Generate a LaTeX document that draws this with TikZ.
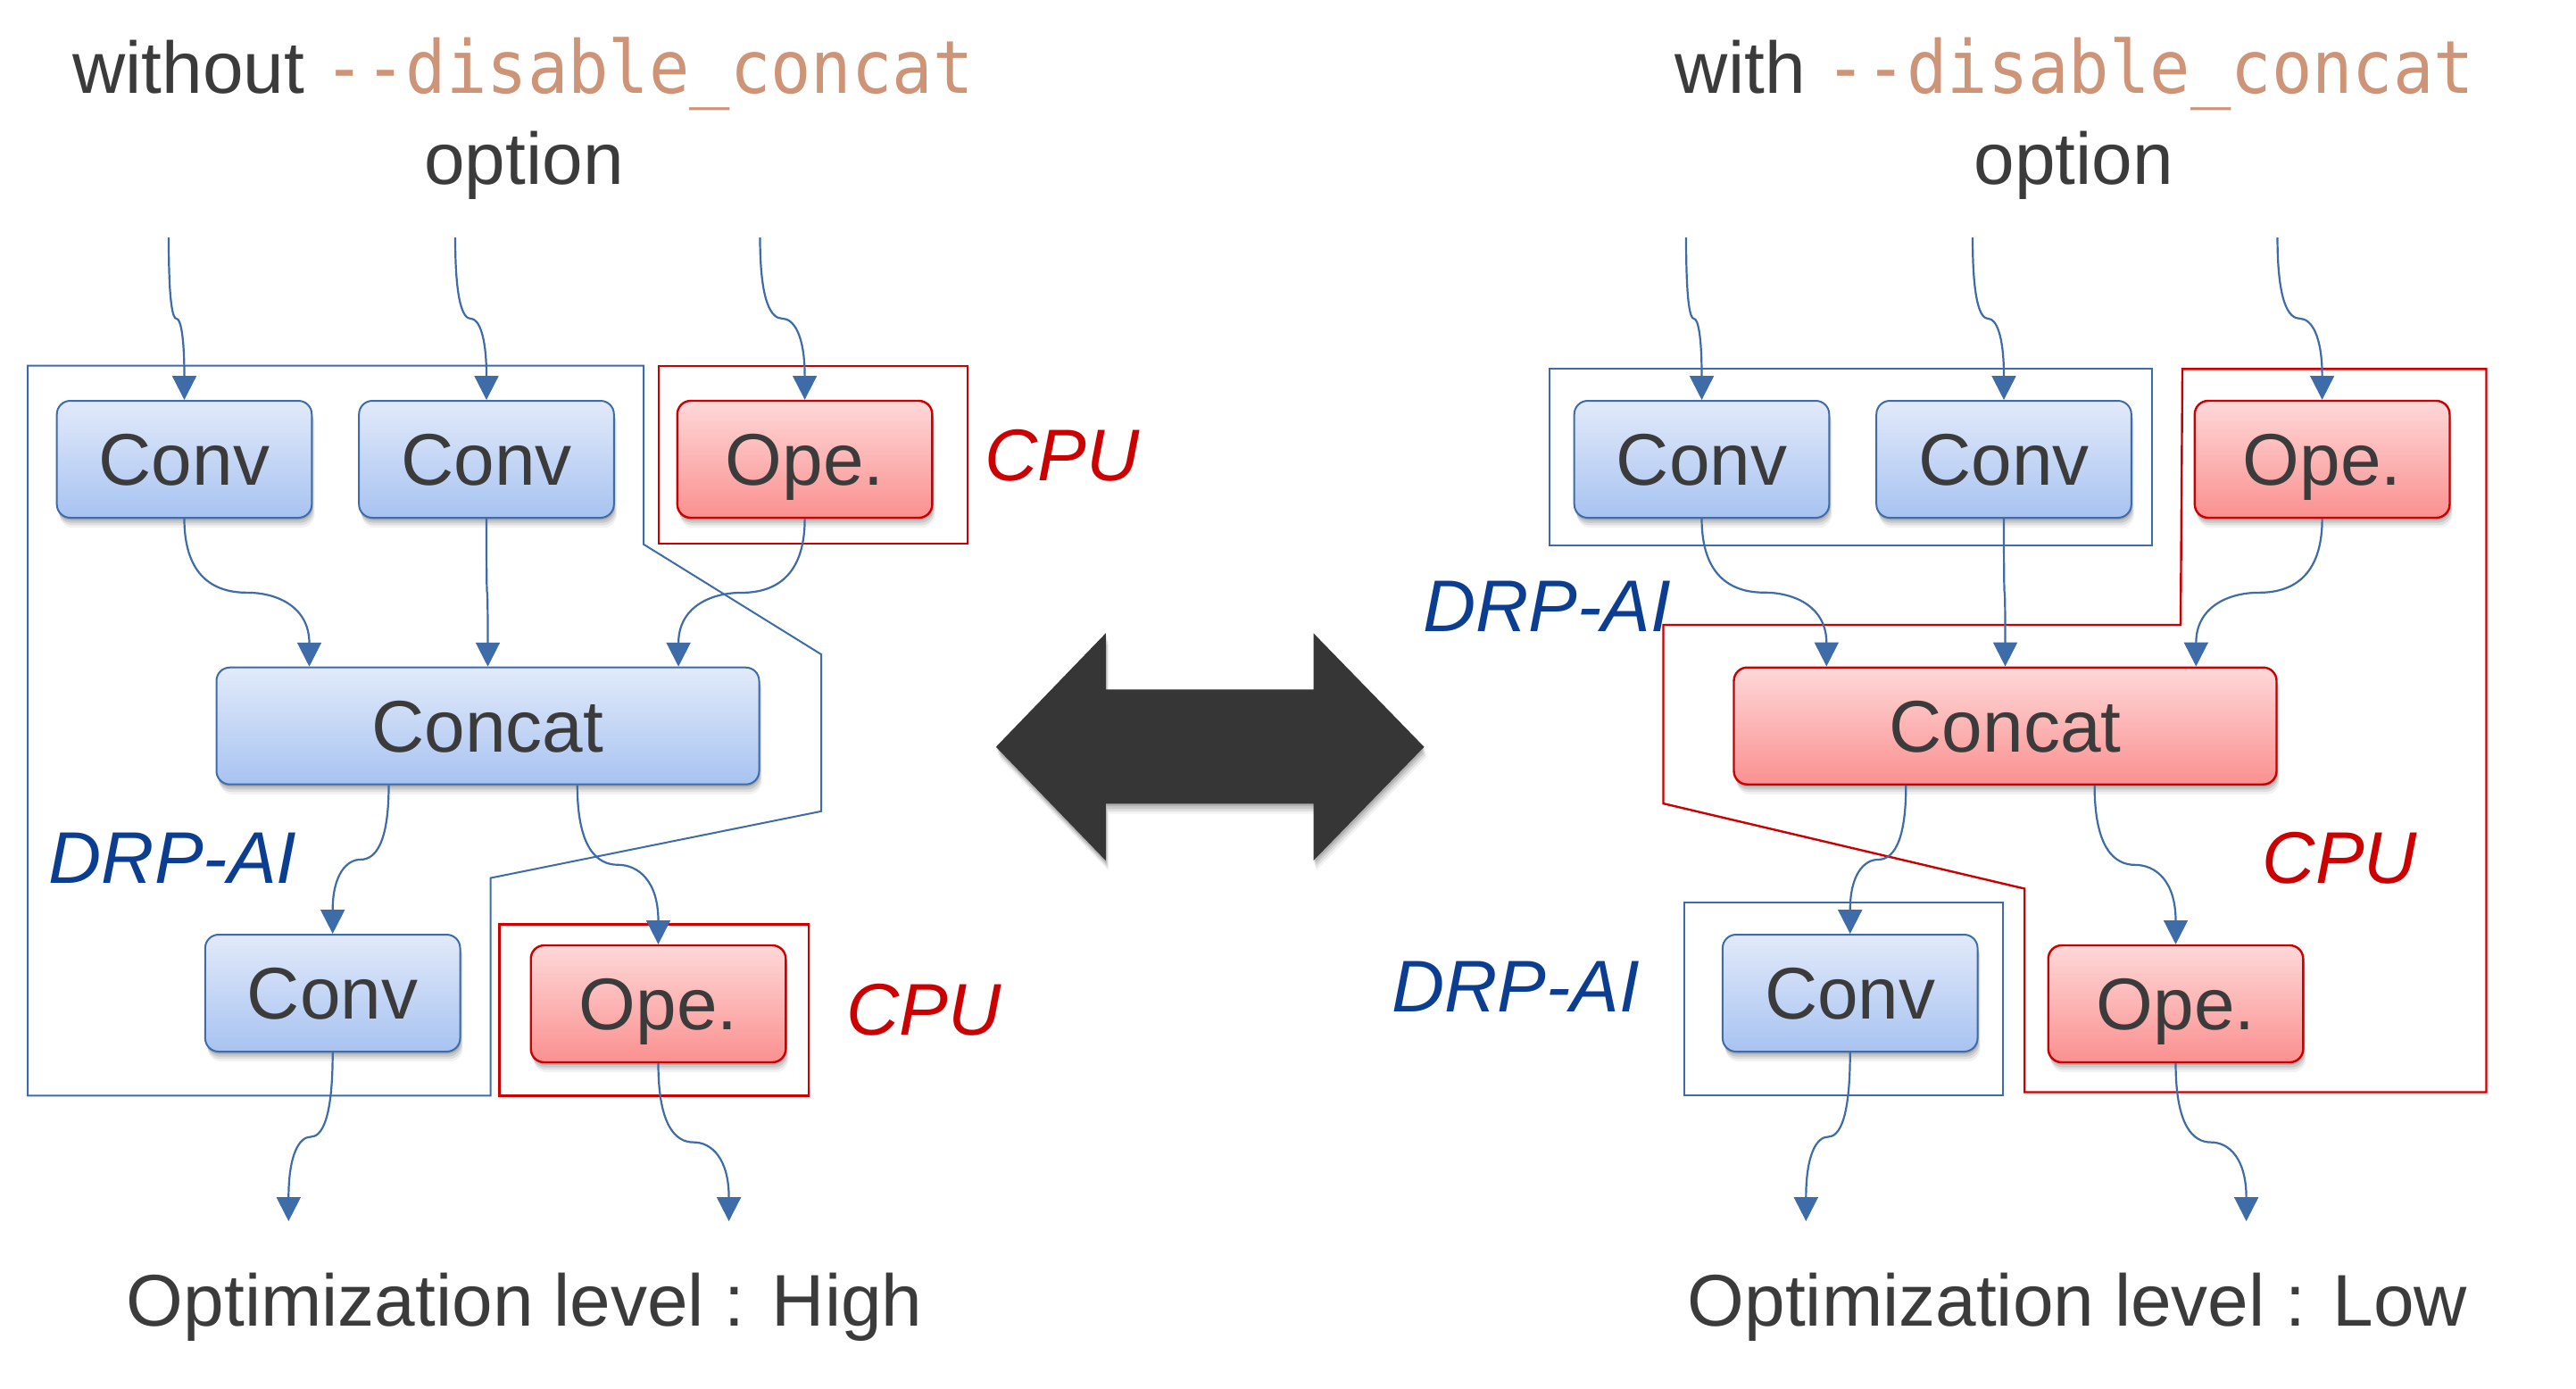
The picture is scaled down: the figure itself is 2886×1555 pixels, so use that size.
\documentclass[tikz,border=0pt]{standalone}
\usepackage{fontspec}
\setmainfont{Liberation Sans}
\newfontfamily\monof[FakeStretch=0.92]{DejaVu Sans Mono}
\usetikzlibrary{arrows.meta,shadows,calc}
\definecolor{txt}{HTML}{3B3B3B}
\definecolor{codecol}{HTML}{CE9478}
\definecolor{lineblue}{HTML}{3D6CA8}
\definecolor{bluetop}{HTML}{E2EAFA}
\definecolor{bluebot}{HTML}{A8C3F1}
\definecolor{redtop}{HTML}{FED8D8}
\definecolor{redbot}{HTML}{FB9090}
\definecolor{cpured}{HTML}{CC0000}
\definecolor{drpblue}{HTML}{0B3D91}
\definecolor{arrowgray}{HTML}{363636}
\newcommand\codetxt[1]{{\monof\color{codecol}#1}}
\tikzset{
  softshadow/.style={
    drop shadow={shadow xshift=0.2pt, shadow yshift=-0.7pt, opacity=0.12, fill=black},
    drop shadow={shadow xshift=0.4pt, shadow yshift=-1.4pt, opacity=0.10, fill=black},
    drop shadow={shadow xshift=0.6pt, shadow yshift=-2.1pt, opacity=0.08, fill=black},
    drop shadow={shadow xshift=0.8pt, shadow yshift=-2.8pt, opacity=0.05, fill=black}},
  basenode/.style={rounded corners=3.75pt, minimum height=32.75pt, inner sep=0pt,
    text height=14.6pt, text depth=0pt,
    font=\fontsize{20.5}{24}\selectfont, text=txt, line width=0.5pt, softshadow},
  bluenode/.style={basenode, draw=lineblue, top color=bluetop, bottom color=bluebot},
  rednode/.style={basenode, draw=cpured, line width=0.6pt, top color=redtop, bottom color=redbot},
  smallw/.style={minimum width=71.4pt},
  widew/.style={minimum width=152pt},
  conn/.style={draw=lineblue, line width=0.55pt, -{Triangle[length=6.7pt,width=6.7pt]}},
  drpbox/.style={draw=lineblue, line width=0.5pt},
  cpubox/.style={draw=cpured, line width=0.6pt},
  ttl/.style={font=\fontsize{20.5}{24}\selectfont, text=txt, anchor=base, inner sep=0pt},
  lbl/.style={font=\fontsize{20.5}{24}\selectfont\itshape, anchor=base west, inner sep=0pt},
  cpulbl/.style={lbl, text=cpured},
  drplbl/.style={lbl, text=drpblue}
}
\newcommand\conn[2]{%
  \draw[conn] let \p1=(#1), \p2=(#2) in
    (\p1) .. controls (\x1,{\y1+0.4*(\y2-\y1)}) and ({\x1+0.25*(\x2-\x1)},{0.5*(\y1+\y2)})
    .. ({0.5*(\x1+\x2)},{0.5*(\y1+\y2)})
    .. controls ({\x1+0.75*(\x2-\x1)},{0.5*(\y1+\y2)}) and (\x2,{\y2-0.4*(\y2-\y1)}) .. (\p2);}
% #1 prefix, #2 x offset, #3 style of Concat
\newcommand\panel[3]{%
  \node[bluenode, smallw] (#1conv1) at ({#2+206.5},514.5) {Conv};
  \node[bluenode, smallw] (#1conv2) at ({#2+545},514.5) {Conv};
  \node[rednode, smallw] (#1ope1) at ({#2+901.6},514.5) {Ope.};
  \node[#3, widew] (#1concat) at ({#2+546.5},813.2) {Concat};
  \node[bluenode, smallw] (#1conv3) at ({#2+372.7},1112.5) {Conv};
  \node[rednode, smallw] (#1ope2) at ({#2+737.5},1124.5) {Ope.};
  \coordinate (#1in1) at ({#2+189},266);
  \coordinate (#1in2) at ({#2+510},266);
  \coordinate (#1in3) at ({#2+851.5},266);
  \coordinate (#1out1) at ({#2+323.3},1368);
  \coordinate (#1out2) at ({#2+816.6},1368);
  \conn{#1in1}{#1conv1.north}
  \conn{#1in2}{#1conv2.north}
  \conn{#1in3}{#1ope1.north}
  \conn{#1conv1.south}{$(#1concat.north west)+(105,0)$}
  \conn{#1conv2.south}{#1concat.north}
  \conn{#1ope1.south}{$(#1concat.north east)+(-91.4,0)$}
  \conn{$(#1concat.south west)+(194,0)$}{#1conv3.north}
  \conn{$(#1concat.south west)+(405.3,0)$}{#1ope2.north}
  \conn{#1conv3.south}{#1out1}
  \conn{#1ope2.south}{#1out2}
}
\begin{document}
\begin{tikzpicture}[x=0.25pt,y=-0.25pt]
\fill[white] (0,0) rectangle (2886,1555);
\useasboundingbox (0,0) rectangle (2886,1555);

% titles
\node[ttl] (lt1) at (586,104.6) {without \codetxt{-\kern0pt-disable\_concat}};
\node[ttl] (lt2) at (587,206.6) {option};
\node[ttl] (rt1) at (2324.5,104.6) {with \codetxt{-\kern0pt-disable\_concat}};
\node[ttl] (rt2) at (2323.2,206.6) {option};

% group outlines, left
\draw[drpbox] (31,409.7) -- (721,409.7) -- (721,609.7) -- (920,733) -- (920,908.8)
  -- (549.7,983.5) -- (549.7,1227.3) -- (31,1227.3) -- cycle;
\draw[cpubox] (738,409.7) rectangle (1084,608.7);
\draw[cpubox] (559.6,1035.3) rectangle (906.2,1227.3);
% group outlines, right
\draw[drpbox] (1735.7,413.3) rectangle (2410.5,611.2);
\draw[drpbox] (1886.5,1010.8) rectangle (2244.4,1227.3);
\draw[cpubox] (2445,413.3) -- (2785.4,413.3) -- (2785.4,1223.5) -- (2268.2,1223.5)
  -- (2268.2,995.5) -- (1863.5,900.1) -- (1863.5,700) -- (2443,700) -- cycle;

% labels
\node[cpulbl] (lcpu1) at (1102.6,538.3) {CPU};
\node[cpulbl] (lcpu2) at (947.6,1159.7) {CPU};
\node[drplbl] (ldrp) at (53.9,989) {DRP-AI};
\node[drplbl] (rdrp1) at (1593.6,707) {DRP-AI};
\node[drplbl] (rdrp2) at (1558.5,1133.5) {DRP-AI};
\node[cpulbl] (rcpu) at (2534,989) {CPU};

% big double arrow
\fill[arrowgray, softshadow]
  (1115.8,836.7) -- (1238.8,709.3) -- (1238.8,772.3) -- (1471.5,772.3) -- (1471.5,709.3)
  -- (1595.5,836.7) -- (1471.5,964) -- (1471.5,900.4) -- (1238.8,900.4) -- (1238.8,964) -- cycle;

% graphs
\panel{l}{0}{bluenode}
\panel{r}{1700}{rednode}

% bottom texts
\node[ttl] (lopt) at (587.8,1485.2) {Optimization level : High};
\node[ttl] (ropt) at (2327.4,1485.2) {Optimization level : Low};
\end{tikzpicture}
\end{document}
